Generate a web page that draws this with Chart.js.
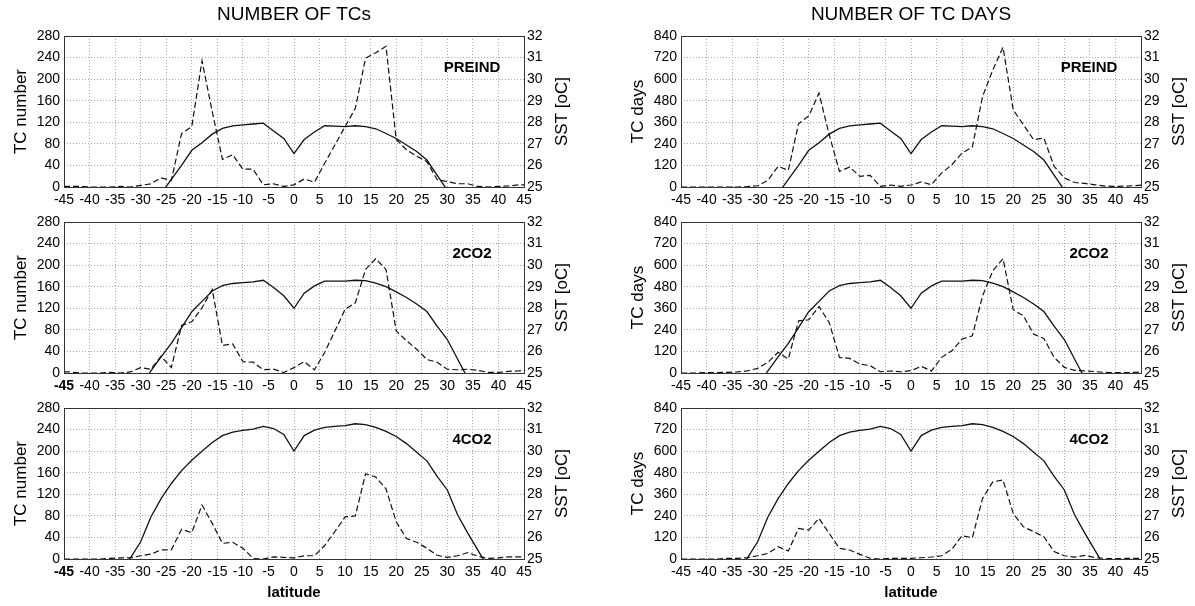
<!DOCTYPE html>
<html>
<head>
<meta charset="utf-8">
<script src="https://cdn.jsdelivr.net/npm/chart.js@4.4.0/dist/chart.umd.min.js"></script>
<style>
  body { margin: 0; background: #fff; }
  #wrap { position: relative; width: 1195px; height: 606px; overflow: hidden; background: #fff; }
  canvas { position: absolute; }
</style>
</head>
<body>
<div id="wrap">
  <canvas id="c1" width="578" height="211" style="left:0px;top:0px"></canvas>
  <canvas id="c2" width="578" height="211" style="left:617px;top:0px"></canvas>
  <canvas id="c3" width="578" height="197" style="left:0px;top:200px"></canvas>
  <canvas id="c4" width="578" height="197" style="left:617px;top:200px"></canvas>
  <canvas id="c5" width="578" height="220" style="left:0px;top:386px"></canvas>
  <canvas id="c6" width="578" height="220" style="left:617px;top:386px"></canvas>
</div>
<script>
// latitude of each sample (deg)
const lat = [-45,-44,-42,-40,-38,-36,-34,-32,-30,-28,-26,-24,-22,-20,-18,-16,-14,-12,-10,-8,-6,-4,-2,0,
             2,4,6,8,10,12,14,16,18,20,22,24,26,28,30,32,34,36,38,40,42,44,45];

// number of TCs (dashed)
const tcNumPreind = [1,1,1,0,0,0,1,0,3,6,17,12,99,112,234,140,51,60,33,33,4,6,1,4,
                     15,9,44,78,112,146,239,249,261,88,69,57,47,14,10,6,6,1,0,1,2,4,4];
const tcNum2co2   = [2,2,0,0,0,1,0,2,10,7,31,10,88,95,121,155,51,54,21,20,6,7,1,10,
                     21,6,38,78,118,130,192,212,192,78,60,44,25,20,7,6,7,5,1,1,3,4,5];
const tcNum4co2   = [0,0,0,0,0,1,2,2,6,9,17,17,55,49,100,66,29,31,20,1,0,4,3,2,
                     6,6,25,51,78,80,158,152,130,69,38,31,20,7,3,6,12,5,1,2,4,4,4];

// number of TC days (dashed)
const tcDaysPreind = [0,0,0,0,0,0,0,2,7,37,115,93,352,396,522,290,87,111,59,65,3,11,4,11,
                      28,13,78,124,189,222,503,651,777,429,346,263,272,115,50,25,20,12,5,3,5,8,10];
const tcDays2co2   = [0,0,0,2,2,4,6,12,26,59,115,78,290,296,370,281,87,81,50,41,7,11,7,13,
                      37,11,87,124,189,207,429,568,636,352,318,216,192,87,31,15,12,8,3,2,2,4,5];
const tcDays4co2   = [0,0,0,0,0,3,4,7,18,31,68,44,170,161,226,142,59,50,26,4,0,4,4,4,
                      7,11,18,54,130,118,337,429,440,253,179,152,124,41,18,10,20,8,3,2,3,4,4];

// SST (solid), degC; null where far below the 25 axis minimum
const sstPreind = [null,null,null,null,null,null,null,null,null,null,24.7,25.35,26.0,26.7,27.05,27.45,27.72,27.83,27.88,27.92,27.96,27.6,27.25,26.55,
                   27.2,27.55,27.84,27.82,27.8,27.84,27.8,27.7,27.48,27.25,26.95,26.65,26.25,25.55,24.85,null,null,null,null,null,null,null,null];
const sst2co2   = [null,null,null,null,null,null,null,null,24.4,25.1,25.75,26.37,27.1,27.84,28.32,28.8,29.05,29.15,29.19,29.22,29.3,28.96,28.58,28.0,
                   28.7,29.04,29.26,29.26,29.26,29.3,29.28,29.17,29.0,28.76,28.5,28.2,27.85,27.17,26.55,25.65,24.75,null,null,null,null,null,null];
const sst4co2   = [null,null,null,null,null,null,24.5,25.05,25.8,26.95,27.8,28.5,29.1,29.58,30.0,30.4,30.72,30.88,30.96,31.02,31.15,31.05,30.77,30.0,
                   30.72,30.97,31.1,31.15,31.18,31.27,31.23,31.1,30.92,30.68,30.35,29.95,29.55,28.83,28.2,27.05,26.2,25.4,24.6,null,null,null,null];

const FONT = "'Liberation Sans', Arial, Helvetica, sans-serif";

const panelDecor = {
  id: 'panelDecor',
  afterDraw(chart, args, o) {
    const {ctx, chartArea: a} = chart;
    ctx.save();
    ctx.strokeStyle = '#333';
    ctx.lineWidth = 1;
    ctx.strokeRect(a.left + 0.5, a.top + 0.5, a.right - a.left, a.bottom - a.top);
    ctx.fillStyle = '#000';
    if (o.title) {
      ctx.font = '19px ' + FONT;
      ctx.textAlign = 'center';
      ctx.textBaseline = 'middle';
      ctx.fillText(o.title, (a.left + a.right) / 2, 15);
    }
    ctx.font = 'bold 15px ' + FONT;
    ctx.textAlign = 'center';
    ctx.textBaseline = 'middle';
    ctx.fillText(o.label, a.left + 408, a.top + 32);
    ctx.translate(a.right + 38, (a.top + a.bottom) / 2);
    ctx.rotate(-Math.PI / 2);
    ctx.font = '17px ' + FONT;
    ctx.fillText('SST [oC]', 0, 0);
    ctx.restore();
  }
};

function pts(vals) {
  return lat.map((x, i) => ({x: x, y: vals[i]}));
}

function makePanel(id, p) {
  new Chart(document.getElementById(id), {
    type: 'line',
    data: {
      datasets: [
        {data: pts(p.tc), yAxisID: 'y', borderColor: '#111', borderWidth: 1.2, borderDash: [6, 3],
         pointRadius: 0, tension: 0},
        {data: pts(p.sst), yAxisID: 'y2', borderColor: '#111', borderWidth: 1.3,
         pointRadius: 0, tension: 0, spanGaps: false}
      ]
    },
    options: {
      responsive: false,
      animation: false,
      devicePixelRatio: 1,
      layout: {padding: {top: p.padTop, left: 0, right: 0, bottom: 0}},
      plugins: {legend: {display: false}, tooltip: {enabled: false}, panelDecor: {title: p.title, label: p.label}},
      scales: {
        x: {
          type: 'linear', min: -45, max: 45,
          afterFit: s => { s.height = p.xh; },
          ticks: {stepSize: 5, autoSkip: false, maxRotation: 0, padding: 5, color: '#000',
                  font: c => ({family: FONT, size: 14, weight: (p.boldFirst && c.index === 0) ? 'bold' : 'normal'})},
          grid: {color: '#a8a8a8', drawTicks: false},
          border: {display: false, dash: [1, 2]},
          title: {display: !!p.xTitle, text: p.xTitle, color: '#000',
                  font: {family: FONT, size: 15, weight: 'bold'}, padding: {top: 0, bottom: 4}}
        },
        y: {
          position: 'left', min: 0, max: p.yMax,
          afterFit: s => { s.width = 64; },
          ticks: {stepSize: p.yStep, padding: 4, color: '#000', font: {family: FONT, size: 14}},
          grid: {color: '#a8a8a8', drawTicks: false},
          border: {display: false, dash: [1, 2]},
          title: {display: true, text: p.yTitle, color: '#000', font: {family: FONT, size: 17},
                  padding: {top: 10.8, bottom: 0}}
        },
        y2: {
          position: 'right', min: 25, max: 32,
          afterFit: s => { s.width = 54; },
          ticks: {stepSize: 1, padding: 3, color: '#000', font: {family: FONT, size: 14}},
          grid: {display: false, drawTicks: false},
          border: {display: false}
        }
      }
    },
    plugins: [panelDecor]
  });
}

makePanel('c1', {tc: tcNumPreind, sst: sstPreind, yMax: 280, yStep: 40, yTitle: 'TC number', label: 'PREIND',
                 title: 'NUMBER OF TCs', padTop: 36, xh: 24});
makePanel('c2', {tc: tcDaysPreind, sst: sstPreind, yMax: 840, yStep: 120, yTitle: 'TC days', label: 'PREIND',
                 title: 'NUMBER OF TC DAYS', padTop: 36, xh: 24});
makePanel('c3', {tc: tcNum2co2, sst: sst2co2, yMax: 280, yStep: 40, yTitle: 'TC number', label: '2CO2',
                 padTop: 22, xh: 24, boldFirst: true});
makePanel('c4', {tc: tcDays2co2, sst: sst2co2, yMax: 840, yStep: 120, yTitle: 'TC days', label: '2CO2',
                 padTop: 22, xh: 24});
makePanel('c5', {tc: tcNum4co2, sst: sst4co2, yMax: 280, yStep: 40, yTitle: 'TC number', label: '4CO2',
                 padTop: 22, xh: 47, xTitle: 'latitude', boldFirst: true});
makePanel('c6', {tc: tcDays4co2, sst: sst4co2, yMax: 840, yStep: 120, yTitle: 'TC days', label: '4CO2',
                 padTop: 22, xh: 47, xTitle: 'latitude'});
</script>
</body>
</html>
